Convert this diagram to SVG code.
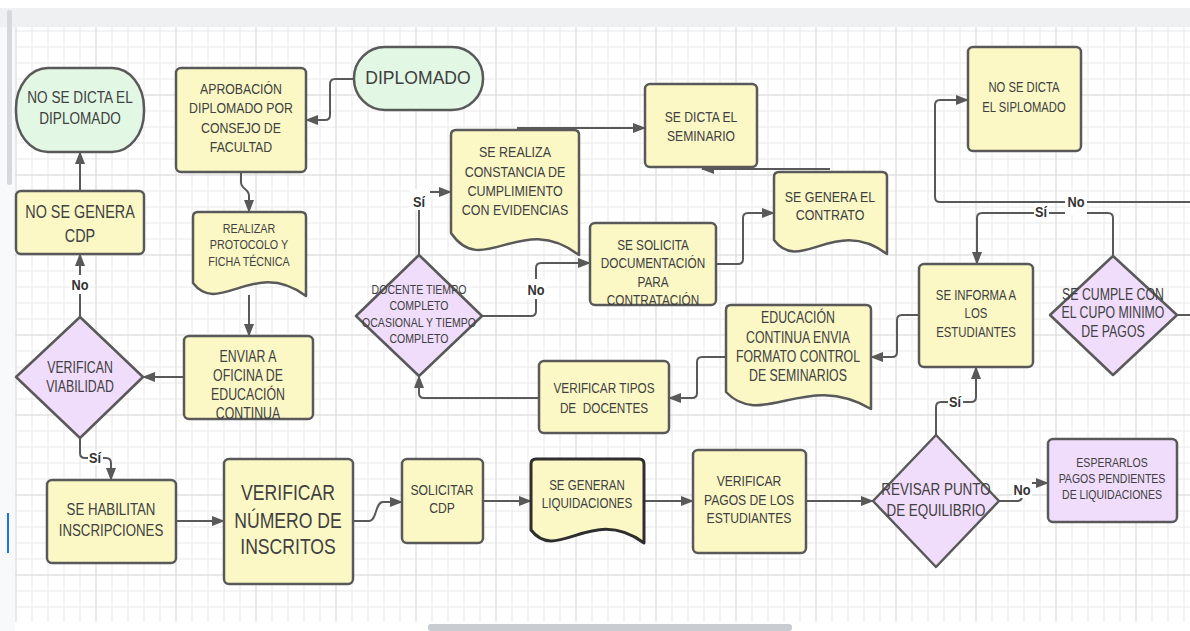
<svg xmlns="http://www.w3.org/2000/svg" width="1190" height="631" viewBox="0 0 1190 631">
<style>
.n{stroke:#595959;stroke-width:2.5;stroke-linejoin:round}
.y{fill:#fbf8c6}.g{fill:#e2f8e5}.p{fill:#f0dcfb}
.t{font-family:"Liberation Sans",Arial,sans-serif;fill:#404040;text-anchor:middle}
.c{fill:none;stroke:#595959;stroke-width:2;marker-end:url(#ah)}
.cn{fill:none;stroke:#595959;stroke-width:2}
.l{font-family:"Liberation Sans",Arial,sans-serif;font-weight:bold;fill:#333;text-anchor:middle;font-size:15px}
.lb{fill:#fff}
</style>
<defs>
<marker id="ah" viewBox="0 0 13 10" refX="12" refY="5" markerWidth="13" markerHeight="10" markerUnits="userSpaceOnUse" orient="auto"><path d="M0,0 L13,5 L0,10 z" fill="#595959"/></marker>
<pattern id="gm" width="16" height="16" patternUnits="userSpaceOnUse" x="15.5" y="14.5"><path d="M0 0.5H16M0.5 0V16" stroke="#e9e9e9" stroke-width="1" fill="none"/></pattern>
<pattern id="gM" width="80" height="80" patternUnits="userSpaceOnUse" x="15.5" y="14.5"><path d="M0 0.5H80M0.5 0V80" stroke="#dddddd" stroke-width="1" fill="none"/></pattern>
</defs>
<rect x="0" y="0" width="1190" height="631" fill="#ffffff"/>
<rect x="0" y="8" width="1190" height="19" fill="#eef0f2"/>
<rect x="0" y="27" width="15" height="604" fill="#f8f9fa"/>
<rect x="7" y="10" width="5" height="175" rx="2" fill="#d6d8dc"/>
<rect x="7" y="513" width="2" height="40" fill="#1a73e8"/>
<rect x="15" y="27" width="1175" height="595" fill="#ffffff"/>
<rect x="15" y="27" width="1175" height="595" fill="url(#gm)"/>
<rect x="15" y="27" width="1175" height="595" fill="url(#gM)"/>
<rect x="428" y="624" width="364" height="7" rx="3" fill="#c9ccd1"/>

<g id="connectors">
<path class="c" d="M354,79 H335 Q330,79 330,84 V115 Q330,120 325,120 H306"/>
<path class="c" d="M241,172 V182 C241,190 249,188 249,196 V212"/>
<path class="c" d="M249,295 V336"/>
<path class="c" d="M184,377 H143"/>
<path class="c" d="M80,317 V254"/>
<path class="c" d="M80,191 V152"/>
<path class="c" d="M80,438 V453 Q80,458 85,458 H106 Q111,458 111,463 V480"/>
<path class="c" d="M176,521 H224"/>
<path class="c" d="M353,521 H369 C377,521 375,502 383,502 H402"/>
<path class="c" d="M483,501 H531"/>
<path class="c" d="M644,501 H693"/>
<path class="c" d="M806,501 H873"/>
<path class="c" d="M936,435 V407 Q936,402 941,402 H971 Q976,402 976,397 V367"/>
<path class="c" d="M999,501 H1017 Q1022,501 1022,496 V488 Q1022,483 1027,483 H1048"/>
<path class="c" d="M919,315 H902 Q897,315 897,320 V352 Q897,357 892,357 H871"/>
<path class="c" d="M726,357 H702 Q697,357 697,362 V393 Q697,398 692,398 H669"/>
<path class="c" d="M539,398 H424 Q419,398 419,393 V376"/>
<path class="c" d="M419,255 V197 Q419,192 424,192 H451"/>
<path class="c" d="M482,316 H531 Q536,316 536,311 V268 Q536,263 541,263 H590"/>
<path class="c" d="M517,128 H645"/>
<path class="c" d="M716,264 H738 Q743,264 743,259 V218 Q743,213 748,213 H774"/>
<path class="c" d="M830,169 H702"/>
<path class="c" d="M1113,256 V218 Q1113,213 1108,213 H982 Q977,213 977,218 V264"/>
<path class="c" d="M1190,202 H940 Q935,202 935,197 V105 Q935,100 940,100 H968"/>
<path class="cn" d="M1177,315 H1190"/>
<rect class="lb" x="410" y="189" width="20" height="21"/>
<text class="l" transform="translate(419 0) scale(0.85 1)" x="0" y="207">Sí</text>
<rect class="lb" x="526" y="279" width="21" height="20"/>
<text class="l" transform="translate(536 0) scale(0.85 1)" x="0" y="295">No</text>
<rect class="lb" x="70" y="275" width="20" height="19"/>
<text class="l" transform="translate(80 0) scale(0.85 1)" x="0" y="290">No</text>
<rect class="lb" x="88" y="451" width="15" height="14"/>
<text class="l" transform="translate(95 0) scale(0.85 1)" x="0" y="463">Sí</text>
<rect class="lb" x="1034" y="204" width="15" height="16"/>
<text class="l" transform="translate(1041 0) scale(0.85 1)" x="0" y="217">Sí</text>
<rect class="lb" x="1065" y="192" width="22" height="23"/>
<text class="l" transform="translate(1076 0) scale(0.85 1)" x="0" y="207">No</text>
<rect class="lb" x="948" y="394" width="15" height="16"/>
<text class="l" transform="translate(955 0) scale(0.85 1)" x="0" y="407">Sí</text>
<rect class="lb" x="1012" y="481" width="20" height="17"/>
<text class="l" transform="translate(1022 0) scale(0.85 1)" x="0" y="495">No</text>
</g>

<g id="n-no-dicta-diplomado">
<rect class="n g" x="16" y="68" width="128" height="84" rx="32" ry="40"/>
<text class="t" font-size="17" transform="translate(80 0) scale(0.8 1)"><tspan x="0" y="103">NO SE DICTA EL</tspan><tspan x="0" y="124">DIPLOMADO</tspan></text>
</g>
<g id="n-aprobacion">
<rect class="n y" x="176" y="68" width="130" height="104" rx="5"/>
<text class="t" font-size="15" transform="translate(241 0) scale(0.82 1)"><tspan x="0" y="94">APROBACIÓN</tspan><tspan x="0" y="113">DIPLOMADO POR</tspan><tspan x="0" y="133">CONSEJO DE</tspan><tspan x="0" y="152">FACULTAD</tspan></text>
</g>
<g id="n-diplomado">
<rect class="n g" x="354" y="47" width="129" height="63" rx="31"/>
<text class="t" font-size="18.5" transform="translate(418 0) scale(0.95 1)"><tspan x="0" y="84">DIPLOMADO</tspan></text>
</g>
<g id="n-no-genera-cdp">
<rect class="n y" x="16" y="191" width="128" height="63" rx="5"/>
<text class="t" font-size="18" transform="translate(80 0) scale(0.8 1)"><tspan x="0" y="218">NO SE GENERA</tspan><tspan x="0" y="242">CDP</tspan></text>
</g>
<g id="n-realizar-protocolo">
<path class="n y" d="M193,283 V217 Q193,212 198,212 H301 Q306,212 306,217 V296 C254,257 219,317 193,283 Z"/>
<text class="t" font-size="12.5" transform="translate(249 0) scale(0.86 1)"><tspan x="0" y="233">REALIZAR</tspan><tspan x="0" y="249">PROTOCOLO Y</tspan><tspan x="0" y="266">FICHA TÉCNICA</tspan></text>
</g>
<g id="n-enviar">
<rect class="n y" x="184" y="336" width="129" height="83" rx="5"/>
<text class="t" font-size="16" transform="translate(248 0) scale(0.77 1)"><tspan x="0" y="362">ENVIAR A</tspan><tspan x="0" y="381">OFICINA DE</tspan><tspan x="0" y="400">EDUCACIÓN</tspan><tspan x="0" y="419">CONTINUA</tspan></text>
</g>
<g id="n-verifican-viabilidad">
<polygon class="n p" points="80,317 143,377 80,438 16,377"/>
<text class="t" font-size="16" transform="translate(80 0) scale(0.77 1)"><tspan x="0" y="373">VERIFICAN</tspan><tspan x="0" y="392">VIABILIDAD</tspan></text>
</g>
<g id="n-habilitan">
<rect class="n y" x="47" y="480" width="129" height="83" rx="5"/>
<text class="t" font-size="17" transform="translate(111 0) scale(0.78 1)"><tspan x="0" y="515">SE HABILITAN</tspan><tspan x="0" y="536">INSCRIPCIONES</tspan></text>
</g>
<g id="n-verificar-numero">
<rect class="n y" x="224" y="459" width="129" height="125" rx="5"/>
<text class="t" font-size="22" transform="translate(288 0) scale(0.8 1)"><tspan x="0" y="500">VERIFICAR</tspan><tspan x="0" y="528">NÚMERO DE</tspan><tspan x="0" y="554">INSCRITOS</tspan></text>
</g>
<g id="n-solicitar-cdp">
<rect class="n y" x="402" y="459" width="81" height="84" rx="5"/>
<text class="t" font-size="15" transform="translate(442 0) scale(0.81 1)"><tspan x="0" y="495">SOLICITAR</tspan><tspan x="0" y="513">CDP</tspan></text>
</g>
<g id="n-generan-liquidaciones">
<path class="y" stroke="#2e2e2e" stroke-width="3" stroke-linejoin="round" d="M531,530 V464 Q531,459 536,459 H639 Q644,459 644,464 V543 C592,504 557,564 531,530 Z"/>
<text class="t" font-size="15" transform="translate(587 0) scale(0.77 1)"><tspan x="0" y="490">SE GENERAN</tspan><tspan x="0" y="508">LIQUIDACIONES</tspan></text>
</g>
<g id="n-verificar-pagos">
<rect class="n y" x="693" y="450" width="113" height="103" rx="5"/>
<text class="t" font-size="15" transform="translate(749 0) scale(0.81 1)"><tspan x="0" y="486">VERIFICAR</tspan><tspan x="0" y="505">PAGOS DE LOS</tspan><tspan x="0" y="523">ESTUDIANTES</tspan></text>
</g>
<g id="n-revisar-punto">
<polygon class="n p" points="936,435 999,501 936,567 873,501"/>
<text class="t" font-size="17" transform="translate(936 0) scale(0.79 1)"><tspan x="0" y="495">REVISAR PUNTO</tspan><tspan x="0" y="516">DE EQUILIBRIO</tspan></text>
</g>
<g id="n-esperarlos">
<rect class="n p" x="1048" y="439" width="129" height="83" rx="5"/>
<text class="t" font-size="13" transform="translate(1112 0) scale(0.81 1)"><tspan x="0" y="467">ESPERARLOS</tspan><tspan x="0" y="483">PAGOS PENDIENTES</tspan><tspan x="0" y="499">DE LIQUIDACIONES</tspan></text>
</g>
<g id="n-se-informa">
<rect class="n y" x="919" y="264" width="114" height="103" rx="5"/>
<text class="t" font-size="15" transform="translate(976 0) scale(0.76 1)"><tspan x="0" y="300">SE INFORMA A</tspan><tspan x="0" y="318">LOS</tspan><tspan x="0" y="337">ESTUDIANTES</tspan></text>
</g>
<g id="n-cumple-cupo">
<polygon class="n p" points="1113,256 1177,315 1113,375 1050,315"/>
<text class="t" font-size="16" transform="translate(1113 0) scale(0.77 1)"><tspan x="0" y="300">SE CUMPLE CON</tspan><tspan x="0" y="318">EL CUPO MINIMO</tspan><tspan x="0" y="337">DE PAGOS</tspan></text>
</g>
<g id="n-no-dicta-siplomado">
<rect class="n y" x="968" y="47" width="113" height="104" rx="5"/>
<text class="t" font-size="15" transform="translate(1024 0) scale(0.75 1)"><tspan x="0" y="92">NO SE DICTA</tspan><tspan x="0" y="112">EL SIPLOMADO</tspan></text>
</g>
<g id="n-educacion-continua">
<path class="n y" d="M726,392 V310 Q726,305 731,305 H866 Q871,305 871,310 V409 C806,370 762,430 726,392 Z"/>
<text class="t" font-size="16" transform="translate(798 0) scale(0.77 1)"><tspan x="0" y="323">EDUCACIÓN</tspan><tspan x="0" y="343">CONTINUA ENVIA</tspan><tspan x="0" y="362">FORMATO CONTROL</tspan><tspan x="0" y="381">DE SEMINARIOS</tspan></text>
</g>
<g id="n-verificar-tipos">
<rect class="n y" x="539" y="361" width="130" height="72" rx="5"/>
<text class="t" font-size="15.5" style="white-space:pre" transform="translate(604 0) scale(0.76 1)"><tspan x="0" y="393">VERIFICAR TIPOS</tspan><tspan x="0" y="413">DE  DOCENTES</tspan></text>
</g>
<g id="n-docente-tiempo">
<polygon class="n p" points="419,255 482,316 419,376 356,316"/>
<text class="t" font-size="12.5" transform="translate(419 0) scale(0.845 1)"><tspan x="0" y="294">DOCENTE TIEMPO</tspan><tspan x="0" y="310">COMPLETO</tspan><tspan x="0" y="327">OCASIONAL Y TIEMPO</tspan><tspan x="0" y="343">COMPLETO</tspan></text>
</g>
<g id="n-se-realiza-constancia">
<path class="n y" d="M451,233 V135 Q451,130 456,130 H574 Q579,130 579,135 V255 C521,210 483,280 451,233 Z"/>
<text class="t" font-size="15" transform="translate(515 0) scale(0.83 1)"><tspan x="0" y="157">SE REALIZA</tspan><tspan x="0" y="177">CONSTANCIA DE</tspan><tspan x="0" y="196">CUMPLIMIENTO</tspan><tspan x="0" y="215">CON EVIDENCIAS</tspan></text>
</g>
<g id="n-se-dicta-seminario">
<rect class="n y" x="645" y="84" width="112" height="83" rx="5"/>
<text class="t" font-size="15" transform="translate(701 0) scale(0.81 1)"><tspan x="0" y="122">SE DICTA EL</tspan><tspan x="0" y="141">SEMINARIO</tspan></text>
</g>
<g id="n-solicita-documentacion">
<rect class="n y" x="590" y="223" width="126" height="82" rx="5"/>
<text class="t" font-size="15.5" transform="translate(653 0) scale(0.76 1)"><tspan x="0" y="250">SE SOLICITA</tspan><tspan x="0" y="268">DOCUMENTACIÓN</tspan><tspan x="0" y="287">PARA</tspan><tspan x="0" y="305">CONTRATACIÓN</tspan></text>
</g>
<g id="n-genera-contrato">
<path class="n y" d="M774,240 V177 Q774,172 779,172 H882 Q887,172 887,177 V254 C835,215 800,275 774,240 Z"/>
<text class="t" font-size="15" transform="translate(830 0) scale(0.83 1)"><tspan x="0" y="202">SE GENERA EL</tspan><tspan x="0" y="220">CONTRATO</tspan></text>
</g>
</svg>
